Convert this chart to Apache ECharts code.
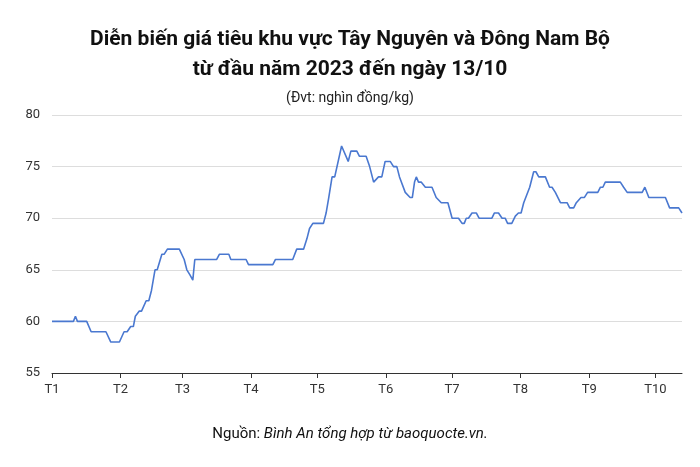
<!doctype html>
<html>
<head>
<meta charset="UTF-8">
<title></title>
<script src="https://cdn.jsdelivr.net/npm/echarts@6/dist/echarts.min.js"></script>
<style>
	html, body { margin: 0; padding: 0; background: #fff; }
	#chart { width: 700px; height: 467px; }
</style>
</head>
<body>
<div id="chart"></div>
<script>
	// ngày tính từ 1/1 (0 = 1/1)
	var monthDays = [0, 31, 59, 90, 120, 151, 181, 212, 243, 273];
	var monthLabels = ['T1', 'T2', 'T3', 'T4', 'T5', 'T6', 'T7', 'T8', 'T9', 'T10'];
	var days = [0, 9.7, 10.6, 11.5, 15.7, 17.7, 24.4, 26.6, 30.5, 32.6, 34, 35.6, 36.8, 37.7, 38.6, 39.5, 40.5, 42.6, 43.8, 45, 46.6, 47.6, 49.7, 50.7, 52.2, 57.6, 59.8, 61, 62.4, 63.7, 64.6, 74.5, 75.7, 80, 80.9, 87.8, 88.9, 99.9, 101.1, 108.9, 110.7, 113.8, 115.3, 116.5, 118, 122.8, 124, 125.2, 126.7, 127.9, 131, 134, 135.2, 137.9, 139.1, 142.1, 143.7, 145.5, 147.7, 149.2, 150.7, 153, 154.5, 156, 157.2, 159.8, 162, 163, 164, 164.8, 165.8, 167, 168.9, 171.9, 173.8, 176.1, 179.1, 181, 183.9, 185.5, 186.5, 187.4, 188.4, 190, 192, 193.2, 199, 200.1, 202, 203.6, 205, 206.1, 208, 209.6, 211, 212.2, 213.4, 216.1, 217.9, 218.9, 220.2, 223.2, 225.1, 226.2, 227.7, 230, 233, 234.2, 236, 237.2, 239.3, 240.8, 242.3, 246.9, 248.1, 249.2, 250.3, 257.1, 258.6, 260.2, 267, 268.2, 270, 277.5, 279.4, 283.5, 285];
	var prices = [60, 60, 60.5, 60, 60, 59, 59, 58, 58, 59, 59, 59.5, 59.5, 60.5, 60.5, 61, 61, 62, 62, 63, 65, 65, 66.5, 66.5, 67, 67, 66, 65, 64.5, 64, 66, 66, 66.5, 66.5, 66, 66, 65.5, 65.5, 66, 66, 67, 67, 68, 69, 69.5, 69.5, 70.5, 72, 74, 74, 77, 75.5, 76.5, 76.5, 76, 76, 75, 73.5, 74, 74, 75.5, 75.5, 75, 75, 74, 72.5, 72, 72, 73.5, 74, 73.5, 73.5, 73, 73, 72, 71.5, 71.5, 70, 70, 69.5, 69.5, 70, 70, 70.5, 70.5, 70, 70, 70.5, 70.5, 70, 70, 69.5, 69.5, 70.2, 70.5, 70.5, 71.5, 73, 74.5, 74.5, 74, 74, 73, 73, 72.5, 71.5, 71.5, 71, 71, 71.5, 72, 72, 72.5, 72.5, 73, 73, 73.5, 73.5, 73, 72.5, 72.5, 73, 72, 72, 71, 71, 70.5];

	var points = days.map(function(d, i) { return [d, prices[i]]; });

	var chart = echarts.init(document.getElementById('chart'));
	chart.setOption({
		animation: false,
		title: {
			text: 'Diễn biến giá tiêu khu vực Tây Nguyên và Đông Nam Bộ\ntừ đầu năm 2023 đến ngày 13/10',
			subtext: '(Đvt: nghìn đồng/kg)',
			left: 'center',
			top: 20,
			itemGap: 6,
			textStyle: { fontFamily: 'Roboto', fontSize: 21, fontWeight: 'bold', color: '#111', lineHeight: 30 },
			subtextStyle: { fontFamily: 'Roboto', fontSize: 14, color: '#222' }
		},
		grid: { left: 52, right: 18, top: 115, bottom: 94 },
		xAxis: {
			type: 'value',
			min: 0,
			max: 285,
			splitLine: { show: false },
			axisLine: { lineStyle: { color: '#333' } },
			axisTick: { customValues: monthDays, lineStyle: { color: '#333' }, length: 5 },
			axisLabel: {
				customValues: monthDays,
				formatter: function(v) { return monthLabels[monthDays.indexOf(v)]; },
				fontFamily: 'Roboto', fontSize: 13, color: '#333', margin: 10
			}
		},
		yAxis: {
			type: 'value',
			min: 55,
			max: 80,
			interval: 5,
			axisLine: { show: false },
			axisTick: { show: false },
			splitLine: { lineStyle: { color: '#ddd' } },
			axisLabel: { fontFamily: 'Roboto', fontSize: 13, color: '#333', margin: 12 }
		},
		series: [{
			type: 'line',
			data: points,
			showSymbol: false,
			lineStyle: { color: '#4a78d0', width: 1.6 }
		}],
		graphic: [{
			type: 'text',
			left: 'center',
			top: 427,
			style: {
				text: '{n|Nguồn: }{i|Bình An tổng hợp từ baoquocte.vn.}',
				rich: {
					n: { fontFamily: 'Roboto', fontSize: 15, fill: '#111' },
					i: { fontFamily: 'Roboto', fontSize: 15, fontStyle: 'italic', fill: '#111' }
				}
			}
		}]
	});
</script>
</body>
</html>
